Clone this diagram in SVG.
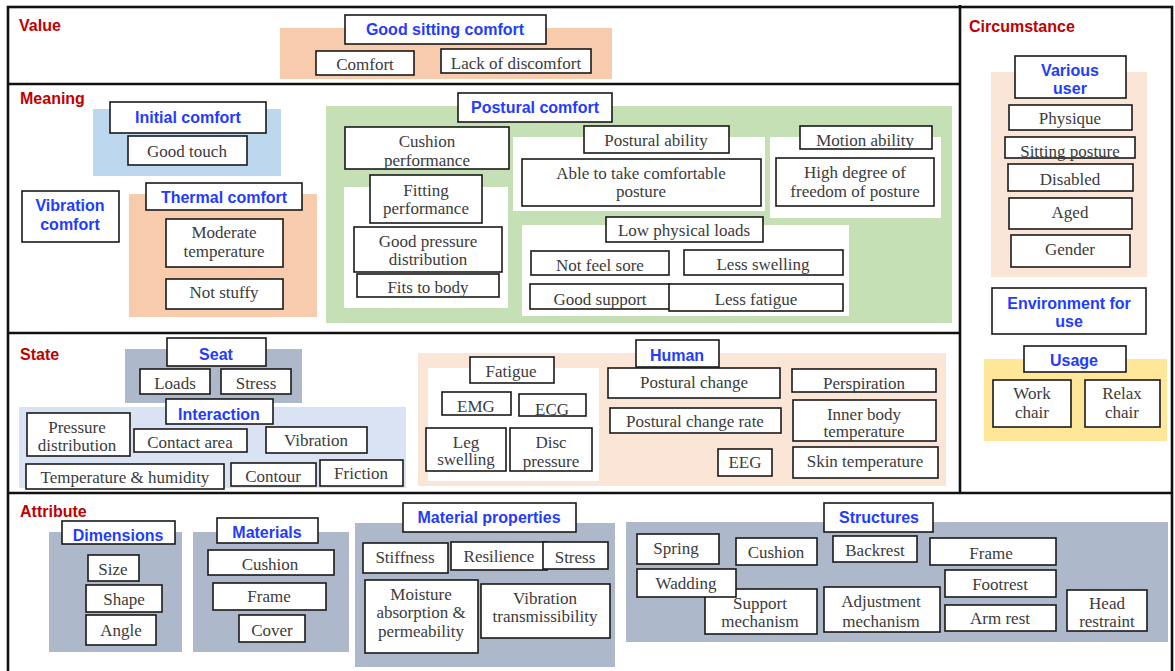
<svg xmlns="http://www.w3.org/2000/svg" width="1175" height="671" viewBox="0 0 1175 671">
<style>
.bx{fill:#fff;stroke:#1a1a1a;stroke-width:1.6}
.t{font-family:"Liberation Serif","Times New Roman",serif;font-size:17px;fill:#3b3b3b;text-anchor:middle}
.h{font-family:"Liberation Sans",Arial,sans-serif;font-weight:bold;font-size:16px;fill:#1f3cff;text-anchor:middle}
.sec{font-family:"Liberation Sans",Arial,sans-serif;font-weight:bold;font-size:16px;fill:#c00000}
.fr{fill:none;stroke:#111;stroke-width:2.6}
.or{fill:#f8cbad}.lb{fill:#bdd7ee}.gr{fill:#c5e0b4}.lo{fill:#fbe5d6}.ye{fill:#ffe699}.sg{fill:#adb9ca}.la{fill:#dae3f3}.wh{fill:#fff}
</style>
<rect width="1175" height="671" fill="#fff"/>

<!-- frame -->
<g id="frame">
<rect class="fr" x="8" y="7" width="1164" height="680"/>
<line class="fr" x1="8" y1="84" x2="960" y2="84"/>
<line class="fr" x1="8" y1="333" x2="960" y2="333"/>
<line class="fr" x1="8" y1="493" x2="1172" y2="493"/>
<line class="fr" x1="960" y1="5" x2="960" y2="493"/>
<text class="sec" x="19" y="31">Value</text>
<text class="sec" x="20" y="104">Meaning</text>
<text class="sec" x="969" y="32">Circumstance</text>
<text class="sec" x="20" y="360">State</text>
<text class="sec" x="20" y="517">Attribute</text>
</g>

<!-- backgrounds -->
<g id="backgrounds">
<rect class="or" x="280" y="28" width="332" height="51"/>
<rect class="lb" x="93" y="109" width="188" height="67"/>
<rect class="or" x="129" y="194" width="188" height="123"/>
<rect class="gr" x="326" y="106" width="626" height="217"/>
<rect class="wh" x="344" y="187" width="164" height="121"/>
<rect class="wh" x="513" y="137" width="252" height="74"/>
<rect class="wh" x="770" y="137" width="171" height="81"/>
<rect class="wh" x="522" y="225" width="327" height="91"/>
<rect class="lo" x="991" y="72" width="156" height="205"/>
<rect class="ye" x="984" y="359" width="183" height="82"/>
<rect class="sg" x="125" y="349" width="177" height="54"/>
<rect class="la" x="19" y="407" width="387" height="81"/>
<rect class="lo" x="418" y="353" width="528" height="133"/>
<rect class="wh" x="428" y="368" width="171" height="113"/>
<rect class="sg" x="49" y="532" width="133" height="120"/>
<rect class="sg" x="193" y="532" width="156" height="120"/>
<rect class="sg" x="355" y="523" width="260" height="144"/>
<rect class="sg" x="626" y="522" width="542" height="120"/>
</g>

<g id="connectors"/>

<!-- Value -->
<g id="good-sitting-comfort"><rect class="bx" x="345" y="15" width="201" height="29"/><text class="h" x="445" y="35">Good sitting comfort</text></g>
<g id="comfort"><rect class="bx" x="316" y="51" width="98" height="24"/><text class="t" x="365" y="70">Comfort</text></g>
<g id="lack-of-discomfort"><rect class="bx" x="441" y="49" width="150" height="24"/><text class="t" x="516" y="69">Lack of discomfort</text></g>

<!-- Meaning -->
<g id="initial-comfort"><rect class="bx" x="110" y="102" width="156" height="31"/><text class="h" x="188" y="123">Initial comfort</text></g>
<g id="good-touch"><rect class="bx" x="128" y="136" width="119" height="29"/><text class="t" x="187" y="157">Good touch</text></g>
<g id="vibration-comfort"><rect class="bx" x="22" y="191" width="97" height="51"/><text class="h" x="70" y="211">Vibration</text><text class="h" x="70" y="230">comfort</text></g>
<g id="thermal-comfort"><rect class="bx" x="146" y="183" width="156" height="27"/><text class="h" x="224" y="203">Thermal comfort</text></g>
<g id="moderate-temperature"><rect class="bx" x="166" y="219" width="117" height="48"/><text class="t" x="224" y="238">Moderate</text><text class="t" x="224" y="257">temperature</text></g>
<g id="not-stuffy"><rect class="bx" x="166" y="279" width="117" height="30"/><text class="t" x="224" y="298">Not stuffy</text></g>

<g id="postural-comfort"><rect class="bx" x="458" y="93" width="154" height="29"/><text class="h" x="535" y="113">Postural comfort</text></g>
<g id="cushion-performance"><rect class="bx" x="345" y="127" width="164" height="42"/><text class="t" x="427" y="147">Cushion</text><text class="t" x="427" y="166">performance</text></g>
<g id="fitting-performance"><rect class="bx" x="370" y="175" width="112" height="48"/><text class="t" x="426" y="196">Fitting</text><text class="t" x="426" y="214">performance</text></g>
<g id="good-pressure-distribution"><rect class="bx" x="354" y="227" width="148" height="45"/><text class="t" x="428" y="247">Good pressure</text><text class="t" x="428" y="265">distribution</text></g>
<g id="fits-to-body"><rect class="bx" x="357" y="274" width="142" height="23"/><text class="t" x="428" y="293">Fits to body</text></g>
<g id="postural-ability"><rect class="bx" x="584" y="126" width="145" height="27"/><text class="t" x="656" y="146">Postural ability</text></g>
<g id="able-to-take"><rect class="bx" x="522" y="159" width="239" height="47"/><text class="t" x="641" y="179">Able to take comfortable</text><text class="t" x="641" y="197">posture</text></g>
<g id="motion-ability"><rect class="bx" x="800" y="126" width="132" height="23"/><text class="t" x="865" y="146">Motion  ability</text></g>
<g id="high-degree"><rect class="bx" x="776" y="158" width="158" height="48"/><text class="t" x="855" y="178">High degree of</text><text class="t" x="855" y="197">freedom of posture</text></g>
<g id="low-physical-loads"><rect class="bx" x="606" y="217" width="157" height="25"/><text class="t" x="684" y="236">Low physical loads</text></g>
<g id="not-feel-sore"><rect class="bx" x="531" y="251" width="138" height="24"/><text class="t" x="600" y="271">Not feel sore</text></g>
<g id="less-swelling"><rect class="bx" x="684" y="250" width="159" height="25"/><text class="t" x="763" y="270">Less swelling</text></g>
<g id="good-support"><rect class="bx" x="530" y="284" width="140" height="25"/><text class="t" x="600" y="305">Good support</text></g>
<g id="less-fatigue"><rect class="bx" x="669" y="284" width="174" height="27"/><text class="t" x="756" y="305">Less fatigue</text></g>

<!-- Circumstance -->
<g id="various-user"><rect class="bx" x="1015" y="56" width="111" height="42"/><text class="h" x="1070" y="76">Various</text><text class="h" x="1070" y="94">user</text></g>
<g id="physique"><rect class="bx" x="1009" y="105" width="123" height="25"/><text class="t" x="1070" y="124">Physique</text></g>
<g id="sitting-posture"><rect class="bx" x="1005" y="137" width="130" height="21"/><text class="t" x="1070" y="157">Sitting posture</text></g>
<g id="disabled"><rect class="bx" x="1008" y="164" width="125" height="27"/><text class="t" x="1070" y="185">Disabled</text></g>
<g id="aged"><rect class="bx" x="1009" y="198" width="123" height="31"/><text class="t" x="1070" y="218">Aged</text></g>
<g id="gender"><rect class="bx" x="1011" y="235" width="119" height="32"/><text class="t" x="1070" y="255">Gender</text></g>
<g id="environment-for-use"><rect class="bx" x="992" y="288" width="154" height="46"/><text class="h" x="1069" y="309">Environment for</text><text class="h" x="1069" y="327">use</text></g>
<g id="usage"><rect class="bx" x="1024" y="346" width="102" height="26"/><text class="h" x="1074" y="366">Usage</text></g>
<g id="work-chair"><rect class="bx" x="993" y="380" width="78" height="47"/><text class="t" x="1032" y="399">Work</text><text class="t" x="1032" y="418">chair</text></g>
<g id="relax-chair"><rect class="bx" x="1085" y="380" width="75" height="47"/><text class="t" x="1122" y="399">Relax</text><text class="t" x="1122" y="418">chair</text></g>

<!-- State -->
<g id="seat"><rect class="bx" x="167" y="338" width="99" height="28"/><text class="h" x="216" y="360">Seat</text></g>
<g id="loads"><rect class="bx" x="140" y="369" width="70" height="25"/><text class="t" x="175" y="389">Loads</text></g>
<g id="seat-stress"><rect class="bx" x="221" y="369" width="70" height="25"/><text class="t" x="256" y="389">Stress</text></g>
<g id="interaction"><rect class="bx" x="166" y="399" width="107" height="25"/><text class="h" x="219" y="420">Interaction</text></g>
<g id="pressure-distribution"><rect class="bx" x="27" y="413" width="103" height="43"/><text class="t" x="77" y="433">Pressure</text><text class="t" x="77" y="451">distribution</text></g>
<g id="contact-area"><rect class="bx" x="134" y="429" width="113" height="23"/><text class="t" x="190" y="448">Contact area</text></g>
<g id="vibration"><rect class="bx" x="266" y="427" width="101" height="26"/><text class="t" x="316" y="446">Vibration</text></g>
<g id="temperature-humidity"><rect class="bx" x="26" y="464" width="198" height="25"/><text class="t" x="125" y="483">Temperature &amp; humidity</text></g>
<g id="contour"><rect class="bx" x="231" y="463" width="85" height="23"/><text class="t" x="273" y="482">Contour</text></g>
<g id="friction"><rect class="bx" x="320" y="460" width="83" height="26"/><text class="t" x="361" y="479">Friction</text></g>

<g id="human"><rect class="bx" x="636" y="340" width="83" height="27"/><text class="h" x="677" y="361">Human</text></g>
<g id="fatigue"><rect class="bx" x="470" y="357" width="84" height="26"/><text class="t" x="511" y="377">Fatigue</text></g>
<g id="emg"><rect class="bx" x="442" y="392" width="69" height="23"/><text class="t" x="476" y="412">EMG</text></g>
<g id="ecg"><rect class="bx" x="519" y="394" width="67" height="22"/><text class="t" x="552" y="415">ECG</text></g>
<g id="leg-swelling"><rect class="bx" x="426" y="428" width="80" height="43"/><text class="t" x="466" y="448">Leg</text><text class="t" x="466" y="465">swelling</text></g>
<g id="disc-pressure"><rect class="bx" x="510" y="428" width="82" height="43"/><text class="t" x="551" y="448">Disc</text><text class="t" x="551" y="467">pressure</text></g>
<g id="postural-change"><rect class="bx" x="608" y="368" width="172" height="30"/><text class="t" x="694" y="388">Postural change</text></g>
<g id="postural-change-rate"><rect class="bx" x="610" y="408" width="171" height="25"/><text class="t" x="695" y="427">Postural change rate</text></g>
<g id="eeg"><rect class="bx" x="718" y="449" width="54" height="27"/><text class="t" x="745" y="468">EEG</text></g>
<g id="perspiration"><rect class="bx" x="792" y="369" width="144" height="23"/><text class="t" x="864" y="389">Perspiration</text></g>
<g id="inner-body-temperature"><rect class="bx" x="793" y="400" width="143" height="41"/><text class="t" x="864" y="420">Inner body</text><text class="t" x="864" y="437">temperature</text></g>
<g id="skin-temperature"><rect class="bx" x="793" y="447" width="145" height="31"/><text class="t" x="865" y="467">Skin temperature</text></g>

<!-- Attribute -->
<g id="dimensions"><rect class="bx" x="62" y="521" width="113" height="23"/><text class="h" x="118" y="541">Dimensions</text></g>
<g id="size"><rect class="bx" x="88" y="555" width="51" height="26"/><text class="t" x="113" y="575">Size</text></g>
<g id="shape"><rect class="bx" x="86" y="585" width="76" height="27"/><text class="t" x="124" y="605">Shape</text></g>
<g id="angle"><rect class="bx" x="86" y="615" width="70" height="30"/><text class="t" x="121" y="636">Angle</text></g>
<g id="materials"><rect class="bx" x="217" y="518" width="101" height="25"/><text class="h" x="267" y="538">Materials</text></g>
<g id="mat-cushion"><rect class="bx" x="208" y="550" width="126" height="25"/><text class="t" x="270" y="570">Cushion</text></g>
<g id="mat-frame"><rect class="bx" x="213" y="583" width="113" height="27"/><text class="t" x="269" y="602">Frame</text></g>
<g id="cover"><rect class="bx" x="239" y="615" width="66" height="27"/><text class="t" x="272" y="636">Cover</text></g>
<g id="material-properties"><rect class="bx" x="403" y="503" width="173" height="29"/><text class="h" x="489" y="523">Material properties</text></g>
<g id="stiffness"><rect class="bx" x="363" y="543" width="85" height="30"/><text class="t" x="405" y="563">Stiffness</text></g>
<g id="resilience"><rect class="bx" x="451" y="542" width="96" height="28"/><text class="t" x="499" y="562">Resilience</text></g>
<g id="mp-stress"><rect class="bx" x="543" y="542" width="65" height="27"/><text class="t" x="575" y="563">Stress</text></g>
<g id="moisture"><rect class="bx" x="365" y="580" width="113" height="73"/><text class="t" x="421" y="600">Moisture</text><text class="t" x="421" y="618">absorption &amp;</text><text class="t" x="421" y="637">permeability</text></g>
<g id="vibration-transmissibility"><rect class="bx" x="481" y="584" width="129" height="54"/><text class="t" x="545" y="604">Vibration</text><text class="t" x="545" y="622">transmissibility</text></g>
<g id="structures"><rect class="bx" x="824" y="503" width="109" height="29"/><text class="h" x="879" y="523">Structures</text></g>
<g id="spring"><rect class="bx" x="637" y="534" width="82" height="30"/><text class="t" x="676" y="554">Spring</text></g>
<g id="st-cushion"><rect class="bx" x="736" y="538" width="81" height="27"/><text class="t" x="776" y="558">Cushion</text></g>
<g id="backrest"><rect class="bx" x="833" y="536" width="84" height="26"/><text class="t" x="875" y="556">Backrest</text></g>
<g id="st-frame"><rect class="bx" x="930" y="538" width="126" height="27"/><text class="t" x="991" y="559">Frame</text></g>
<g id="support-mechanism"><rect class="bx" x="705" y="589" width="112" height="45"/><text class="t" x="760" y="609">Support</text><text class="t" x="760" y="627">mechanism</text></g>
<g id="wadding"><rect class="bx" x="637" y="569" width="99" height="28"/><text class="t" x="686" y="589">Wadding</text></g>
<g id="adjustment-mechanism"><rect class="bx" x="824" y="587" width="116" height="45"/><text class="t" x="881" y="607">Adjustment</text><text class="t" x="881" y="627">mechanism</text></g>
<g id="footrest"><rect class="bx" x="945" y="570" width="111" height="27"/><text class="t" x="1000" y="590">Footrest</text></g>
<g id="arm-rest"><rect class="bx" x="945" y="605" width="111" height="26"/><text class="t" x="1000" y="624">Arm rest</text></g>
<g id="head-restraint"><rect class="bx" x="1067" y="590" width="80" height="41"/><text class="t" x="1107" y="609">Head</text><text class="t" x="1107" y="627">restraint</text></g>
</svg>
